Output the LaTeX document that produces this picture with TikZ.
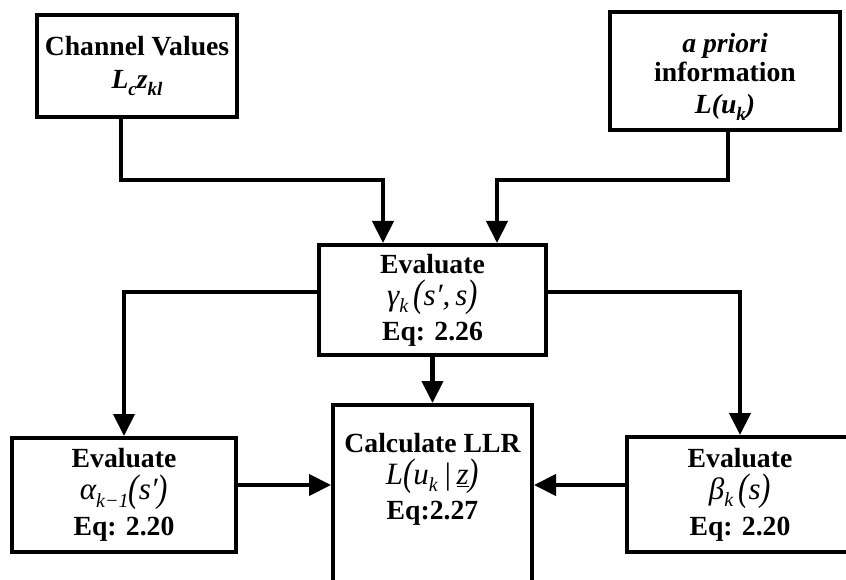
\documentclass[tikz,border=0pt]{standalone}
\usepackage{fontspec}
\setmainfont{Liberation Serif}
\usetikzlibrary{arrows.meta}

% subscripts, tall parentheses and the size of the formula lines
\newcommand\lsub[1]{\raisebox{-0.28em}{\fontsize{19}{19}\selectfont #1}}
\newcommand\msub[1]{\raisebox{-0.24em}{\fontsize{20}{20}\selectfont #1}}
\newcommand\tallp[1]{\raisebox{-0.05em}{\scalebox{1}[1.24]{#1}}}
\newcommand\formula[1]{{\fontsize{31}{33}\selectfont\mdseries\itshape #1}}

\tikzset{
  blockbox/.style={draw, line width=4pt, inner sep=0pt, align=center,
    font=\fontsize{27.7}{33}\selectfont\bfseries},
  conn/.style={line width=4.2pt, -{Triangle[width=21pt,length=22pt]}}
}

\begin{document}
\begin{tikzpicture}[x=1pt,y=-1pt]
  \useasboundingbox (0,0) rectangle (846,580);
  \clip (0,0) rectangle (846,580);

  % input blocks
  \node[blockbox, minimum width=200pt, minimum height=102pt] (chan) at (137,66)
    {Channel Values\\
     {\itshape L\lsub{c}z\lsub{kl}}};
  \node[blockbox, minimum width=230pt, minimum height=118pt] (apri) at (725,71)
    {\rule{0pt}{31pt}\itshape a priori\\[-4pt] information\\[-1pt]
     {\itshape L(u\lsub{k})}};

  % branch metric
  \node[blockbox, minimum width=227pt, minimum height=110pt] (gamma) at (432.5,300)
    {Evaluate\\[-1pt]
     \formula{γ\msub{k}\,\tallp{(}s′,\,s\tallp{)}}\\[2pt]
     Eq: 2.26};

  % forward and backward recursions
  \node[blockbox, minimum width=224pt, minimum height=114pt] (alpha) at (124,495)
    {Evaluate\\[-1pt]
     \formula{α\msub{k−1}\tallp{(}s′\tallp{)}}\\[3pt]
     Eq: 2.20};
  \node[blockbox, minimum width=226pt, minimum height=115pt] (beta) at (740,494.5)
    {Evaluate\\[-1pt]
     \formula{β\msub{k}\,\tallp{(}s\tallp{)}}\\[3pt]
     Eq: 2.20};

  % LLR block, open towards the bottom edge
  \node[draw, line width=4pt, minimum width=199pt, minimum height=220pt,
        anchor=north, inner sep=0pt] (calc) at (432.5,403) {};
  \node[anchor=north, align=center, inner sep=0pt,
        font=\fontsize{27.7}{33}\selectfont\bfseries] (calctext)
        at ([yshift=-30pt]calc.north)
    {Calculate LLR\\[-1pt]
     \formula{L\tallp{(}u\msub{k}\,|\,\underline{z}\tallp{)}}\\[2pt]
     Eq:2.27};

  % channel values and a priori information into the branch metric
  \coordinate (jc) at (121,180);
  \coordinate (ja) at (728,180);
  \draw[conn] (chan.south -| jc) -- (jc) -| ([xshift=-49.5pt]gamma.north);
  \draw[conn] (apri.south -| ja) -- (ja) -| ([xshift=64.5pt]gamma.north);

  % branch metric out to the recursions and the LLR block
  \draw[conn] ([yshift=8pt]gamma.west) -| (alpha.north);
  \draw[conn] ([yshift=8pt]gamma.east) -| (beta.north);
  \draw[conn] (gamma.south) -- (calc.north);

  % recursions into the LLR block
  \draw[conn] ([yshift=10pt]alpha.east) -- ([yshift=10pt]alpha.east -| calc.west);
  \draw[conn] ([yshift=9.5pt]beta.west) -- ([yshift=9.5pt]beta.west -| calc.east);
\end{tikzpicture}
\end{document}
